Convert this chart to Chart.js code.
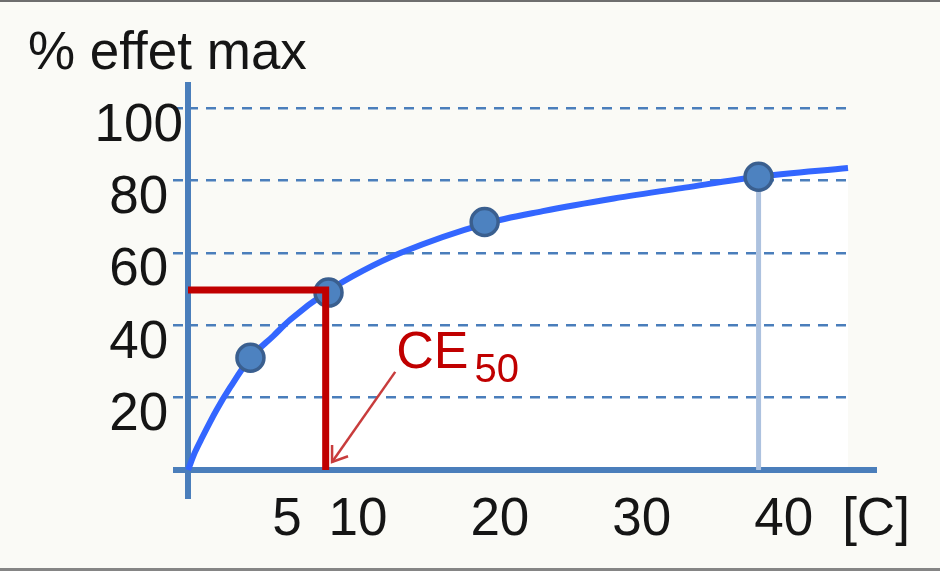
<!DOCTYPE html>
<html>
<head>
<meta charset="utf-8">
<title>% effet max</title>
<script src="https://cdn.jsdelivr.net/npm/chart.js@4.4.1/dist/chart.umd.min.js"></script>
<style>
  html, body { margin: 0; padding: 0; background: #fafaf6; }
  #chart { display: block; background: #fafaf6; }
</style>
</head>
<body>
<canvas id="chart" width="940" height="571"></canvas>
<script>
'use strict';

// dose-effect curve
let curveC = [0, 0.5, 1, 2, 3, 4.4, 6, 7.2, 9.9, 12.3, 15, 20.9, 25, 30, 35, 40.2, 46.5];
let curveE = [0, 5, 9, 16.5, 23, 31, 37, 41.5, 49.5, 55, 60, 68, 71.5, 75, 78, 81, 83.4];

// measured points
let pointC = [4.4, 9.9, 20.9, 40.2];
let pointE = [31, 49, 68.5, 81];

// CE50 marker and arrow
let ce50C = 9.7;
let ce50E = 49.7;
let arrowC = [14.6, 10.15];
let arrowE = [27.1, 2.2];

let xTicks = [5, 10, 20, 30, 40];
let xMax = 46.5;
let xName = '[C]';
let yTicks = [0, 20, 40, 60, 80, 100];
let yName = '% effet max';

const blue = '#4a7ebb';
const red = '#c00000';

Chart.defaults.font.family = '"Liberation Sans", Arial, sans-serif';
Chart.defaults.color = '#151515';

let canvasElem = document.getElementById('chart');

function toXY(xs, ys) {
  let out = [];
  for (let i = 0; i < xs.length; i++) {
    out.push({ x: xs[i], y: ys[i] });
  }
  return out;
}

// axis lines, drawn over the grid but under the data
const axesLines = {
  id: 'axesLines',
  beforeDatasetsDraw(chart) {
    const ctx = chart.ctx;
    const xs = chart.scales.x;
    const ys = chart.scales.y;
    const x0 = xs.getPixelForValue(0);
    const y0 = ys.getPixelForValue(0);
    ctx.save();
    ctx.strokeStyle = blue;
    ctx.lineWidth = 6;
    ctx.beginPath();
    ctx.moveTo(x0, ys.getPixelForValue(100) - 26);
    ctx.lineTo(x0, y0 + 29);
    ctx.moveTo(x0 - 15, y0);
    ctx.lineTo(xs.getPixelForValue(xMax) + 29, y0);
    ctx.stroke();
    ctx.restore();
  }
};

// arrow head and CE50 text
const ceLabel = {
  id: 'ceLabel',
  afterDatasetsDraw(chart) {
    const ctx = chart.ctx;
    const xs = chart.scales.x;
    const ys = chart.scales.y;
    const sx = xs.getPixelForValue(arrowC[0]);
    const sy = ys.getPixelForValue(arrowE[0]);
    const tx = xs.getPixelForValue(arrowC[1]);
    const ty = ys.getPixelForValue(arrowE[1]);
    const back = Math.atan2(sy - ty, sx - tx);
    const spread = 35 * Math.PI / 180;
    ctx.save();
    ctx.strokeStyle = '#c83c3c';
    ctx.lineWidth = 2.5;
    ctx.beginPath();
    ctx.moveTo(tx + 17 * Math.cos(back - spread), ty + 17 * Math.sin(back - spread));
    ctx.lineTo(tx, ty);
    ctx.lineTo(tx + 17 * Math.cos(back + spread), ty + 17 * Math.sin(back + spread));
    ctx.stroke();

    ctx.fillStyle = red;
    ctx.textBaseline = 'alphabetic';
    ctx.textAlign = 'left';
    ctx.font = '52px "Liberation Sans", Arial, sans-serif';
    ctx.fillText('CE', sx + 1, sy - 4);
    const w = ctx.measureText('CE').width;
    ctx.font = '40px "Liberation Sans", Arial, sans-serif';
    ctx.fillText('50', sx + 1 + w + 6, sy + 10);
    ctx.restore();
  }
};

// thin grey frame lines at top and bottom
const frame = {
  id: 'frame',
  afterDraw(chart) {
    const ctx = chart.ctx;
    ctx.save();
    ctx.fillStyle = '#6e6e6e';
    ctx.fillRect(0, 0, chart.width, 2);
    ctx.fillStyle = '#858585';
    ctx.fillRect(0, chart.height - 3, chart.width, 3);
    ctx.restore();
  }
};

const data = {
  datasets: [
    {
      label: 'CE50 arrow',
      data: toXY(arrowC, arrowE),
      borderColor: '#c83c3c',
      borderWidth: 2.5,
      pointRadius: 0,
      fill: false,
      clip: false,
      order: 0
    },
    {
      label: 'CE50',
      data: [{ x: 0, y: ce50E }, { x: ce50C, y: ce50E }, { x: ce50C, y: 0 }],
      borderColor: red,
      borderWidth: 7,
      borderJoinStyle: 'miter',
      pointRadius: 0,
      fill: false,
      clip: false,
      order: 1
    },
    {
      label: 'points',
      data: toXY(pointC, pointE),
      showLine: false,
      pointRadius: 13.5,
      pointBorderWidth: 3.5,
      pointBackgroundColor: '#4d82c0',
      pointBorderColor: '#3a5f8f',
      fill: false,
      clip: false,
      order: 2
    },
    {
      label: 'drop',
      data: [{ x: pointC[3], y: 0 }, { x: pointC[3], y: pointE[3] }],
      borderColor: '#adc2df',
      borderWidth: 5,
      pointRadius: 0,
      fill: false,
      order: 3
    },
    {
      label: 'effet',
      data: toXY(curveC, curveE),
      borderColor: '#3366ff',
      borderWidth: 6,
      backgroundColor: '#ffffff',
      fill: 'origin',
      cubicInterpolationMode: 'monotone',
      pointRadius: 0,
      clip: false,
      order: 4
    }
  ]
};

const config = {
  type: 'line',
  data: data,
  plugins: [axesLines, ceLabel, frame],
  options: {
    responsive: false,
    animation: false,
    layout: {
      padding: { left: 28, right: 92, top: 0, bottom: 0 }
    },
    plugins: {
      legend: { display: false },
      tooltip: { enabled: false },
      filler: { drawTime: 'beforeDraw' },
      title: {
        display: true,
        text: yName,
        align: 'start',
        color: '#151515',
        font: { size: 53, weight: 'normal', lineHeight: 1.2 },
        padding: { top: 23, bottom: 21.4 }
      }
    },
    scales: {
      x: {
        type: 'linear',
        min: 0,
        max: xMax,
        afterBuildTicks: (scale) => {
          let t = xTicks.map(v => ({ value: v }));
          t.push({ value: xMax });
          scale.ticks = t;
        },
        afterFit: (scale) => { scale.height = 101; },
        grid: { display: false, drawTicks: false, tickLength: 0 },
        border: { display: false },
        ticks: {
          autoSkip: false,
          maxRotation: 0,
          labelOffset: 28,
          padding: 19,
          font: { size: 53 },
          callback: (v) => (v === xMax ? xName : v)
        }
      },
      y: {
        min: 0,
        max: 100,
        afterBuildTicks: (scale) => {
          scale.ticks = yTicks.map(v => ({ value: v }));
        },
        afterFit: (scale) => { scale.width = 160; },
        grid: {
          color: (c) => (c.tick && c.tick.value === 0 ? 'rgba(0,0,0,0)' : blue),
          tickColor: (c) => (c.tick && c.tick.value === 0 ? 'rgba(0,0,0,0)' : blue),
          lineWidth: 2.5,
          tickWidth: 2.5,
          tickLength: 15,
          tickBorderDash: [10, 8]
        },
        border: { display: false, dash: [10, 8] },
        ticks: {
          crossAlign: 'center',
          padding: -10,
          labelOffset: 18,
          font: { size: 53 },
          callback: (v) => (v === 0 ? '' : v)
        }
      }
    }
  }
};

new Chart(canvasElem, config);
</script>
</body>
</html>
